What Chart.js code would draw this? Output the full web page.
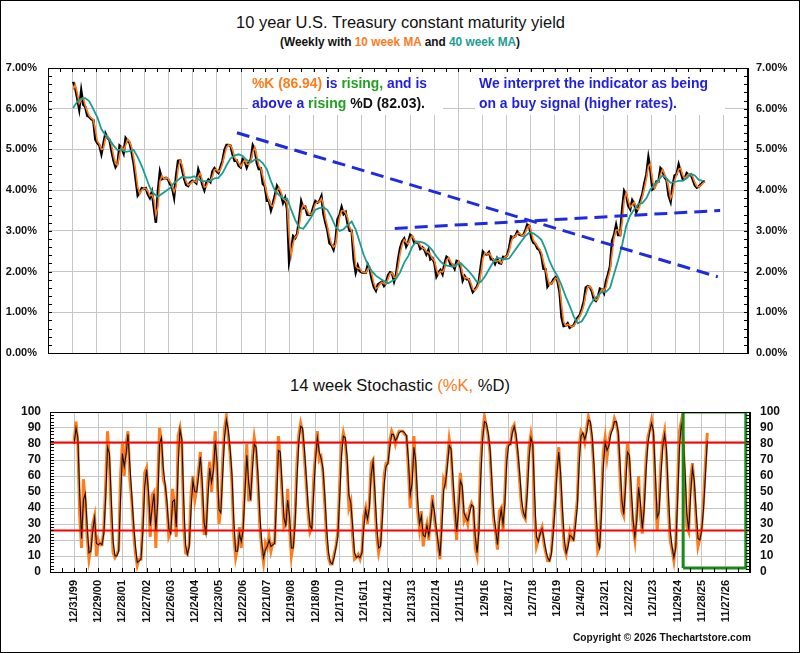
<!DOCTYPE html>
<html><head><meta charset="utf-8">
<script src="https://cdn.jsdelivr.net/npm/chart.js@4.4.0/dist/chart.umd.min.js"></script>
<style>
html,body{margin:0;padding:0;background:#fff;}
#wrap{position:relative;width:800px;height:653px;overflow:hidden;background:#fff;font-family:'Liberation Sans',Arial,sans-serif;color:#111;}
#frame{position:absolute;left:0;top:0;width:798px;height:651px;border:1px solid #000;pointer-events:none;z-index:9}
.cbox{position:absolute;left:0;width:800px;}
.t{position:absolute;left:0;top:0;white-space:nowrap;transform-origin:0 50%;z-index:4}
.bg{position:absolute;background:#fff;z-index:3}
.o{color:#ff7b1c}.tl{color:#1a9c94}.b{color:#1f1fe0}.g{color:#22a022}.k{color:#111}
</style></head>
<body><div id="wrap">
<div class="cbox" style="top:60px;height:300px"><canvas id="c1"></canvas></div>
<div class="cbox" style="top:400px;height:245px"><canvas id="c2"></canvas></div>
<div class="bg" style="left:248px;top:72px;width:195px;height:43px"></div>
<div class="bg" style="left:475px;top:72px;width:250px;height:43px"></div>
<div class="t" id="title" style="font-size:16px;line-height:19px">10 year U.S. Treasury constant maturity yield</div>
<div class="t" id="sub" style="font-size:13px;font-weight:bold;line-height:15px">(Weekly with <span class="o">10 week MA</span> and <span class="tl">40 week MA</span>)</div>
<div class="t b" id="n1a" style="font-size:15px;font-weight:bold;line-height:18px"><span class="o">%K (86.94)</span> is <span class="g">rising,</span> and is</div>
<div class="t b" id="n1b" style="font-size:15px;font-weight:bold;line-height:18px">above a <span class="g">rising</span> <span class="k">%D (82.03).</span></div>
<div class="t b" id="n2a" style="font-size:15px;font-weight:bold;line-height:18px">We interpret the indicator as being</div>
<div class="t b" id="n2b" style="font-size:15px;font-weight:bold;line-height:18px">on a buy signal (higher rates).</div>
<div class="t" id="stt" style="font-size:16px;line-height:19px">14 week Stochastic <span class="o">(%K,</span> %D)</div>
<div class="t" id="copy" style="font-size:11px;font-weight:bold;line-height:13px">Copyright © 2026 Thechartstore.com</div>
<div id="frame"></div>
</div>
<script>
// ---------- DATA ----------
// Weekly axis: week 0 = 12/31/99, one tick label every 52 weeks
const xTickLabels = ['12/31/99','12/29/00','12/28/01','12/27/02','12/26/03','12/24/04','12/23/05','12/22/06','12/21/07','12/19/08','12/18/09','12/17/10','12/16/11','12/14/12','12/13/13','12/12/14','12/11/15','12/9/16','12/8/17','12/7/18','12/6/19','12/4/20','12/3/21','12/2/22','12/1/23','11/29/24','11/28/25','11/27/26'];

// 10-year yield (%), one value per month from Jan 2000 to Feb 2026
const yield10 = [
6.66,6.52,6.26,5.99,6.44,6.10,6.05,5.83,5.80,5.74,5.72,5.24,
5.16,5.10,4.89,5.14,5.39,5.28,5.24,4.97,4.73,4.57,4.65,5.09,
5.04,4.91,5.28,5.21,5.16,4.93,4.65,4.26,3.87,3.94,4.05,4.03,
4.05,3.90,3.81,3.96,3.57,3.20,3.98,4.45,4.27,4.29,4.30,4.27,
4.15,4.08,3.83,4.35,4.72,4.73,4.50,4.28,4.13,4.10,4.19,4.23,
4.22,4.17,4.50,4.34,4.14,4.00,4.18,4.26,4.20,4.46,4.54,4.47,
4.42,4.57,4.72,4.99,5.11,5.11,5.09,4.88,4.72,4.73,4.60,4.56,
4.76,4.72,4.56,4.69,4.75,5.10,5.00,4.67,4.52,4.53,4.15,4.10,
3.74,3.74,3.51,3.68,3.88,4.10,4.01,3.89,3.69,3.81,3.53,2.25,
2.52,2.87,2.82,2.93,3.29,3.72,3.56,3.59,3.40,3.39,3.40,3.59,
3.73,3.69,3.73,3.85,3.42,3.20,3.01,2.70,2.65,2.54,2.76,3.29,
3.39,3.58,3.41,3.46,3.17,3.00,3.00,2.30,1.98,2.15,2.01,1.98,
1.97,1.97,2.17,2.05,1.80,1.62,1.53,1.68,1.72,1.75,1.65,1.72,
1.91,1.98,1.96,1.76,1.93,2.30,2.58,2.74,2.81,2.62,2.72,2.90,
2.86,2.71,2.72,2.71,2.56,2.60,2.54,2.42,2.53,2.30,2.33,2.21,
1.88,1.98,2.04,1.94,2.20,2.36,2.32,2.17,2.17,2.07,2.26,2.24,
2.09,1.78,1.89,1.81,1.81,1.64,1.50,1.56,1.63,1.76,2.14,2.49,
2.43,2.42,2.48,2.30,2.30,2.19,2.32,2.21,2.20,2.36,2.35,2.40,
2.58,2.86,2.84,2.87,2.98,2.91,2.89,2.89,3.00,3.15,3.12,2.83,
2.71,2.68,2.57,2.53,2.40,2.07,2.06,1.63,1.70,1.71,1.81,1.86,
1.76,1.50,0.87,0.66,0.67,0.73,0.62,0.65,0.68,0.79,0.87,0.93,
1.08,1.26,1.61,1.64,1.62,1.52,1.32,1.28,1.37,1.58,1.56,1.47,
1.76,1.93,2.13,2.75,2.90,3.14,2.90,2.90,3.52,3.98,3.89,3.62,
3.53,3.75,3.66,3.46,3.57,3.75,3.90,4.17,4.38,4.80,4.50,4.02,
4.06,4.21,4.21,4.54,4.48,4.31,4.25,3.87,3.72,4.10,4.36,4.39,
4.63,4.45,4.28,4.28,4.42,4.38,4.39,4.26,4.12,4.06,4.09,4.14,
4.20,4.22];

// 10 week moving average (%), monthly, same months as yield10
const ma10 = [
6.47,6.59,6.39,6.13,6.22,6.27,6.08,5.94,5.82,5.77,5.73,5.48,
5.20,5.13,5.00,5.02,5.27,5.34,5.26,5.11,4.85,4.65,4.61,4.87,
5.07,4.98,5.10,5.25,5.19,5.05,4.79,4.46,4.07,3.91,4.00,4.04,
4.04,3.98,3.86,3.89,3.77,3.39,3.59,4.22,4.36,4.28,4.30,4.29,
4.21,4.12,3.96,4.09,4.54,4.73,4.62,4.39,4.21,4.12,4.15,4.21,
4.23,4.20,4.34,4.42,4.24,4.07,4.09,4.22,4.23,4.33,4.50,4.51,
4.45,4.50,4.65,4.86,5.05,5.11,5.10,4.99,4.80,4.73,4.67,4.58,
4.66,4.74,4.64,4.63,4.72,4.93,5.05,4.84,4.60,4.53,4.34,4.13,
3.92,3.74,3.63,3.60,3.78,3.99,4.06,3.95,3.79,3.75,3.67,2.89,
2.39,2.70,2.85,2.88,3.11,3.51,3.64,3.58,3.50,3.40,3.40,3.50,
3.66,3.71,3.71,3.79,3.64,3.31,3.11,2.86,2.68,2.60,2.65,3.03,
3.34,3.49,3.50,3.44,3.32,3.09,3.00,2.65,2.14,2.07,2.08,2.00,
1.98,1.97,2.07,2.11,1.93,1.71,1.58,1.61,1.70,1.74,1.70,1.69,
1.82,1.95,1.97,1.86,1.85,2.12,2.44,2.66,2.78,2.72,2.67,2.81,
2.88,2.79,2.72,2.72,2.64,2.58,2.57,2.48,2.48,2.42,2.32,2.27,
2.05,1.93,2.01,1.99,2.07,2.28,2.34,2.25,2.17,2.12,2.17,2.25,
2.17,1.94,1.84,1.85,1.81,1.73,1.57,1.53,1.60,1.70,1.95,2.32,
2.46,2.43,2.45,2.39,2.30,2.25,2.26,2.27,2.21,2.28,2.36,2.38,
2.49,2.72,2.85,2.86,2.93,2.95,2.90,2.89,2.95,3.08,3.14,2.98,
2.77,2.70,2.63,2.55,2.47,2.24,2.07,1.85,1.67,1.71,1.76,1.84,
1.81,1.63,1.19,0.77,0.67,0.70,0.68,0.64,0.67,0.74,0.83,0.90,
1.01,1.17,1.44,1.63,1.63,1.57,1.42,1.30,1.33,1.48,1.57,1.52,
1.62,1.85,2.03,2.44,2.83,3.02,3.02,2.90,3.21,3.75,3.94,3.76,
3.58,3.64,3.71,3.56,3.52,3.66,3.83,4.04,4.28,4.59,4.65,4.26,
4.04,4.14,4.21,4.38,4.51,4.40,4.28,4.06,3.80,3.91,4.23,4.38,
4.51,4.54,4.37,4.28,4.35,4.40,4.39,4.33,4.19,4.09,4.08,4.12,
4.17,4.21];

// 40 week moving average (%), every second month from Jan 2000
const ma40 = [
6.02,6.17,6.25,6.26,6.18,5.99, 5.79,5.50,5.35,5.24,5.10,4.98,
5.00,4.94,4.96,4.99,4.81,4.59, 4.33,4.06,3.91,3.84,3.91,3.98,
4.05,4.18,4.25,4.33,4.31,4.31, 4.34,4.26,4.22,4.22,4.22,4.29,
4.30,4.42,4.61,4.78,4.85,4.88, 4.84,4.74,4.68,4.75,4.75,4.66,
4.51,4.22,3.98,3.88,3.80,3.79, 3.52,3.27,3.08,3.05,3.19,3.34,
3.52,3.56,3.58,3.51,3.33,3.10, 3.00,3.04,3.14,3.23,3.03,2.72,
2.40,2.17,2.01,1.90,1.83,1.77, 1.71,1.77,1.82,1.98,2.22,2.38,
2.61,2.74,2.73,2.70,2.63,2.52, 2.37,2.25,2.16,2.14,2.12,2.17,
2.21,2.11,2.01,1.89,1.75,1.75, 1.88,2.05,2.22,2.34,2.32,2.30,
2.32,2.46,2.60,2.74,2.87,2.96, 2.94,2.87,2.78,2.55,2.26,2.05,
1.89,1.66,1.39,1.16,0.90,0.73, 0.78,0.94,1.16,1.32,1.41,1.50,
1.50,1.60,1.94,2.28,2.66,3.12, 3.38,3.53,3.66,3.68,3.80,4.02,
4.13,4.25,4.36,4.29,4.18,4.20, 4.23,4.23,4.29,4.40,4.36,4.25,
4.23];

// Trend lines on the yield panel (x in weeks from 12/31/99, y in %)
const trendDownX = [355, 1391];
const trendDownY = [5.41, 1.87];
const trendUpX = [695, 1396];
const trendUpY = [3.06, 3.50];

// 14 week stochastic, one value every 4 weeks from 12/31/99 (13 per year)
const stochK = [
82,94,80,35,15,58,45,22,8,15,30,35,10,
20,17,17,27,55,88,68,35,12,9,11,14,60,
80,60,80,88,58,45,25,12,4,8,8,32,62,
65,45,22,48,50,15,55,90,82,58,54,40,22,
25,52,42,22,85,90,80,30,12,11,18,50,60,
45,52,64,75,48,24,24,55,69,50,68,88,60,
30,40,70,90,97,85,74,55,22,9,15,28,15,
30,58,80,45,45,72,84,76,55,28,15,6,18,
15,22,13,18,18,55,85,70,48,28,30,52,28,
10,17,36,68,86,93,88,72,55,37,25,28,58,
75,88,70,72,62,42,20,9,5,5,11,16,25,
55,80,87,82,67,40,44,22,8,9,11,8,13,
35,40,30,44,68,70,42,22,12,18,40,61,68,
68,82,88,85,80,85,88,88,88,86,85,65,40,
62,85,62,38,27,38,16,25,30,20,35,48,33,
26,16,8,35,58,55,70,83,75,52,36,20,45,
62,50,32,35,30,40,43,40,15,10,32,70,88,
97,91,85,74,50,32,25,14,38,40,26,50,77,
80,80,90,92,83,72,56,40,35,33,55,78,86,
78,35,16,20,25,28,18,12,7,7,13,28,45,
68,78,55,32,15,11,18,25,20,20,33,45,78,
88,86,81,90,97,92,82,60,32,13,16,45,75,
84,72,82,88,90,96,93,86,60,38,35,62,80,
70,45,28,20,37,60,35,24,45,70,84,89,95,
85,52,26,42,68,82,88,72,40,20,14,7,18,
55,88,94,82,55,28,25,58,68,52,32,16,21,
28,45,68,86.94];
const stochD = [
80,90,84,49,21,45,49,29,12,13,26,34,18,
17,18,17,24,47,78,74,45,19,10,10,13,46,
74,66,74,86,67,49,31,16,6,7,8,25,53,
64,51,29,40,49,26,43,80,84,65,55,44,27,
24,44,45,28,66,89,83,45,17,11,16,40,57,
50,50,60,72,56,31,24,46,65,56,63,82,68,
39,37,61,84,95,89,77,61,32,13,13,24,19,
26,50,73,56,45,64,80,78,61,36,19,9,14,
16,20,16,17,18,44,76,75,55,34,29,45,35,
15,15,30,58,81,91,90,77,60,42,29,27,49,
70,84,75,71,65,48,27,12,6,5,9,15,22,
46,73,85,84,72,48,43,29,12,9,10,9,12,
28,39,33,40,61,69,50,28,15,16,33,55,66,
68,78,86,86,82,84,87,88,88,87,85,71,48,
55,78,69,45,30,35,23,22,29,23,31,44,38,
28,19,10,27,51,56,66,79,77,59,41,25,38,
57,54,37,34,32,37,42,41,23,12,25,59,83,
94,93,87,77,57,37,27,17,31,39,30,43,69,
79,80,87,91,86,75,61,45,37,34,48,71,84,
80,48,22,19,24,27,21,14,9,7,11,24,40,
61,75,62,39,20,12,16,23,22,20,29,41,68,
85,87,83,87,95,94,85,67,40,19,15,36,66,
81,76,79,86,89,94,94,88,68,45,36,54,75,
73,53,33,22,32,53,43,27,39,63,80,88,93,
88,62,34,37,60,78,86,77,50,26,16,9,15,
44,78,92,86,63,36,26,48,65,57,38,21,20,
26,40,61,82.03];

// Stochastic reference levels and highlighted box (weeks, stochastic units)
const stochUpper = 81;
const stochLower = 26;
const boxX = [1312, 1447];
const boxY = [2.5, 100];

// ---------- CHARTS ----------
const WEEKS_PER_MONTH = 52.1786 / 12;
const monthX = i => (i + 0.5) * WEEKS_PER_MONTH;
const X_MIN = -52, X_MAX = 1456;

const ORANGE = '#ff7b1c', TEAL = '#1a9c94', BLUE = '#1f2be0', GRID = '#c6c6c6', NONE = 'rgba(0,0,0,0)';
const FONT = "'Liberation Sans', Arial, sans-serif";
Chart.defaults.font.family = FONT;

const frameTicks = {
  id: 'frameTicks',
  afterDraw(chart, args, o) {
    const {ctx, chartArea: a, scales} = chart;
    ctx.save();
    ctx.strokeStyle = '#000'; ctx.lineWidth = 1;
    ctx.strokeRect(Math.round(a.left) + 0.5, Math.round(a.top) + 0.5, Math.round(a.right - a.left) - 1, Math.round(a.bottom - a.top));
    ctx.beginPath();
    const y = scales.y, x = scales.x;
    const n = Math.round((o.yMax - o.yMin) / o.yStep);
    for (let i = 0; i <= n; i++) {
      const py = Math.round(y.getPixelForValue(o.yMin + i * o.yStep)) + 0.5;
      ctx.moveTo(a.left, py); ctx.lineTo(a.left + o.len, py);
      ctx.moveTo(a.right, py); ctx.lineTo(a.right - o.len, py);
    }
    for (let v = X_MIN; v <= X_MAX; v += o.xStep) {
      const px = Math.round(x.getPixelForValue(v)) + 0.5;
      if (o.xSide === 'top') { ctx.moveTo(px, a.top); ctx.lineTo(px, a.top + o.len); }
      else { ctx.moveTo(px, a.bottom); ctx.lineTo(px, a.bottom - o.len); }
    }
    ctx.stroke();
    ctx.restore();
  }
};

const vGrid = c => (c.tick && c.tick.value > X_MIN && c.tick.value < X_MAX) ? GRID : NONE;
const line = (label, data, color, width, extra) => Object.assign({
  label, data, borderColor: color, backgroundColor: color, borderWidth: width,
  pointRadius: 0, fill: false, tension: 0
}, extra || {});
const yAxis = (pos, min, max, step, size, gap, width, fmt, onArea) => ({
  position: pos, min, max,
  ticks: { stepSize: step, autoSkip: false, padding: 0, color: '#111', font: {size, weight: 'bold'}, callback: fmt },
  grid: { color: GRID, drawOnChartArea: onArea, drawTicks: true, tickLength: gap, tickColor: NONE },
  border: { color: '#000' },
  afterFit: s => { s.width = width; }
});

// Yield panel
new Chart(document.getElementById('c1'), {
  type: 'line',
  data: { datasets: [
    line('Down trend', trendDownX.map((x, i) => ({x, y: trendDownY[i]})), BLUE, 3, {borderDash: [13, 7]}),
    line('Up trend', trendUpX.map((x, i) => ({x, y: trendUpY[i]})), BLUE, 3, {borderDash: [13, 7]}),
    line('40 week MA', ma40.map((v, k) => ({x: monthX(2 * k), y: v})), TEAL, 1.8),
    line('10 week MA', ma10.map((v, i) => ({x: monthX(i), y: v})), ORANGE, 1.6),
    line('Yield', yield10.map((v, i) => ({x: monthX(i), y: v})), '#000', 2.5)
  ]},
  options: {
    responsive: true, maintainAspectRatio: false, animation: false,
    layout: { padding: { top: 8, bottom: 7, left: 0, right: 0 } },
    plugins: { legend: {display: false}, tooltip: {enabled: false},
      frameTicks: { yMin: 0, yMax: 7, yStep: 0.2, xStep: 26, xSide: 'top', len: 4 } },
    scales: {
      x: { type: 'linear', min: X_MIN, max: X_MAX,
        ticks: { display: false, stepSize: 52 },
        grid: { color: vGrid, drawTicks: false }, border: { color: '#000' },
        afterFit: s => { s.height = 0; } },
      y: yAxis('left', 0, 7, 1, 11, 11, 48, v => v.toFixed(2) + '%', true),
      y2: yAxis('right', 0, 7, 1, 11, 8, 52, v => v.toFixed(2) + '%', false)
    }
  },
  plugins: [frameTicks]
});

// Stochastic panel
const boxPts = [[0,0],[0,1],[1,1],[1,0],[0,0]].map(([i, j]) => ({x: boxX[i], y: boxY[j]}));
new Chart(document.getElementById('c2'), {
  type: 'line',
  data: { datasets: [
    line('Box', boxPts, '#168a16', 3, {borderJoinStyle: 'miter'}),
    line('Upper', [{x: X_MIN, y: stochUpper}, {x: X_MAX, y: stochUpper}], '#ff0000', 2),
    line('Lower', [{x: X_MIN, y: stochLower}, {x: X_MAX, y: stochLower}], '#ff0000', 2),
    line('%D', stochD.map((v, k) => ({x: 4 * k, y: v})), '#111', 1.1),
    line('%K', stochK.map((v, k) => ({x: 4 * k, y: v})), ORANGE, 3)
  ]},
  options: {
    responsive: true, maintainAspectRatio: false, animation: false,
    layout: { padding: { top: 12, bottom: 0, left: 0, right: 0 } },
    plugins: { legend: {display: false}, tooltip: {enabled: false},
      frameTicks: { yMin: 0, yMax: 100, yStep: 2, xStep: 26, xSide: 'bottom', len: 4 } },
    scales: {
      x: { type: 'linear', min: X_MIN, max: X_MAX,
        ticks: { stepSize: 52, autoSkip: false, minRotation: 90, maxRotation: 90, padding: 8,
          color: '#111', font: {size: 11, weight: 'bold'},
          callback: v => { const i = Math.round(v / 52); return (v >= 0 && i < xTickLabels.length) ? xTickLabels[i] : ''; } },
        grid: { color: vGrid, drawTicks: false }, border: { color: '#000' },
        afterFit: s => { s.height = 73; } },
      y: yAxis('left', 0, 100, 10, 12, 9, 50, v => String(v), true),
      y2: yAxis('right', 0, 100, 10, 12, 10, 50, v => String(v), false)
    }
  },
  plugins: [frameTicks]
});

// ---------- TEXT PLACEMENT ----------
function place(id, x, cy, w, align) {
  const el = document.getElementById(id);
  const r = el.getBoundingClientRect();
  const s = w / r.width;
  const left = align === 'center' ? x - w / 2 : (align === 'right' ? x - w : x);
  el.style.left = left + 'px';
  el.style.top = (cy - r.height / 2) + 'px';
  el.style.transform = 'scaleX(' + s.toFixed(4) + ')';
}
function layoutText() {
  place('title', 400, 22.7, 329, 'center');
  place('sub', 400, 41.7, 240, 'center');
  place('n1a', 251.7, 83, 175, 'left');
  place('n1b', 251.7, 102.7, 173, 'left');
  place('n2a', 479, 83, 229, 'left');
  place('n2b', 479, 102.7, 198, 'left');
  place('stt', 400, 385.7, 220, 'center');
  place('copy', 750.7, 637.7, 178, 'right');
}
if (document.fonts && document.fonts.ready) { document.fonts.ready.then(layoutText); } else { layoutText(); }
</script>
</body></html>
